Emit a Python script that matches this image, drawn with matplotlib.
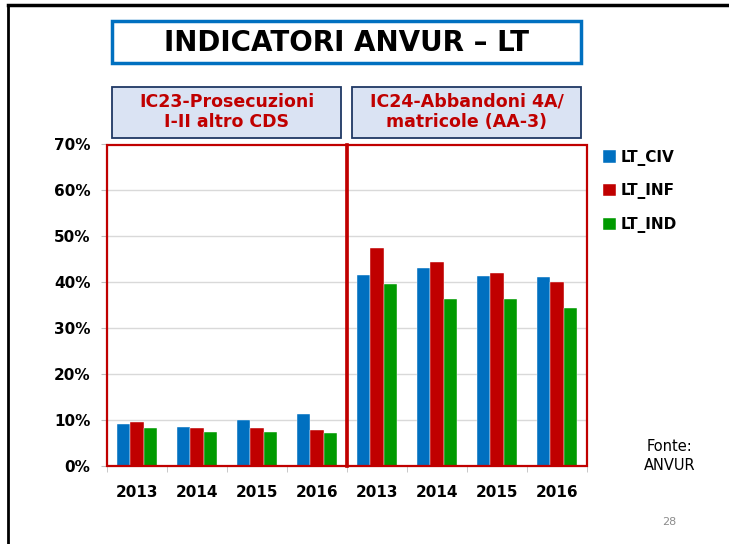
import matplotlib
matplotlib.use("Agg")
import matplotlib.pyplot as plt
from matplotlib.patches import Rectangle
import numpy as np

years = ["2013", "2014", "2015", "2016", "2013", "2014", "2015", "2016"]
lt_civ = [9.2, 8.5, 9.9, 11.3, 41.6, 43.0, 41.2, 41.0]
lt_inf = [9.6, 8.3, 8.3, 7.8, 47.5, 44.3, 42.0, 39.9]
lt_ind = [8.3, 7.3, 7.3, 7.2, 39.6, 36.4, 36.2, 34.3]
series = {"LT_CIV": lt_civ, "LT_INF": lt_inf, "LT_IND": lt_ind}
colors = ["#0070C0", "#C00000", "#009A00"]

W, H = 729, 544
fig = plt.figure(figsize=(W / 100, H / 100), dpi=100)
plt.rcParams['font.family'] = ['DejaVu Sans']

def fx(px):
    return px / W

def fy(py):
    return 1 - py / H

# slide border
fig.add_artist(plt.Line2D([fx(8), fx(8)], [0, fy(5)], color="black", lw=2))
fig.add_artist(plt.Line2D([fx(8), 1], [fy(5), fy(5)], color="black", lw=2.5))

ax_w = fx(587) - fx(107)
ax = fig.add_axes([fx(107), fy(466), ax_w, fy(144) - fy(466)])
x = np.arange(len(years))
bw = 0.222
for i, (name, vals) in enumerate(series.items()):
    ax.bar(x + (i - 1) * bw, np.array(vals) / 100, bw, color=colors[i], label=name,
           edgecolor="white", linewidth=0.3, zorder=3)

ax.set_xlim(-0.5, 7.5)
ax.set_ylim(0, 0.7)
ax.set_yticks(np.arange(0, 0.71, 0.1))
ax.set_yticklabels([f"{int(round(v * 100))}%" for v in np.arange(0, 0.71, 0.1)],
                   fontsize=11, fontweight="bold")
ax.yaxis.grid(True, color="#D9D9D9", lw=1, zorder=0)
ax.set_xticks(x)
ax.set_xticklabels(years, fontsize=11, fontweight="bold")
ax.set_xticks(np.arange(-0.5, 7.6, 1), minor=True)
ax.tick_params(axis="x", which="major", length=0, pad=14)
ax.tick_params(axis="x", which="minor", length=4, color="#BFBFBF")
ax.tick_params(axis="y", length=4, color="#BFBFBF", pad=8)
for s in ["top", "right"]:
    ax.spines[s].set_visible(False)
ax.spines["left"].set_color("#BFBFBF")
ax.spines["bottom"].set_color("#BFBFBF")

# red frames around the two indicator groups
ax.add_patch(Rectangle((-0.5, 0), 4, 0.698, fill=False, edgecolor="#C00000", lw=1.6,
                       zorder=4, clip_on=False))
ax.add_patch(Rectangle((3.5, 0), 4, 0.698, fill=False, edgecolor="#C00000", lw=1.6,
                       zorder=4, clip_on=False))
ax.plot([3.5, 3.5], [0, 0.698], color="#C00000", lw=2.6, zorder=5, clip_on=False)

leg = ax.legend(loc="upper left", bbox_to_anchor=((592 - 107) / (587 - 107), 1.015),
                frameon=False, fontsize=11, handlelength=0.85, handleheight=0.85,
                handletextpad=0.35, labelspacing=1.15, borderaxespad=0.3)
for t in leg.get_texts():
    t.set_fontweight("bold")

# title box
fig.add_artist(Rectangle((fx(112), fy(63)), fx(581) - fx(112), fy(21) - fy(63),
                         fill=False, edgecolor="#0070C0", lw=2.5))
fig.text(fx(346), fy(43), "INDICATORI ANVUR \u2013 LT", ha="center", va="center",
         fontsize=20, fontweight="bold")

# subtitle boxes
for x0, x1, label in [(112, 341, "IC23-Prosecuzioni\nI-II altro CDS"),
                      (352, 581, "IC24-Abbandoni 4A/\nmatricole (AA-3)")]:
    fig.add_artist(Rectangle((fx(x0), fy(138)), fx(x1) - fx(x0), fy(87) - fy(138),
                             facecolor="#DAE3F3", edgecolor="#1F3864", lw=1.3))
    fig.text((fx(x0) + fx(x1)) / 2, fy(112), label, ha="center", va="center",
             fontsize=12.5, fontweight="bold", color="#C00000", linespacing=1.2)

fig.text(fx(670), fy(456), "Fonte:\nANVUR", ha="center", va="center", fontsize=10.5,
         linespacing=1.3)
fig.text(fx(669), fy(522), "28", ha="center", va="center", fontsize=8, color="#8C8C8C")

fig.savefig("out.png", dpi=100)
